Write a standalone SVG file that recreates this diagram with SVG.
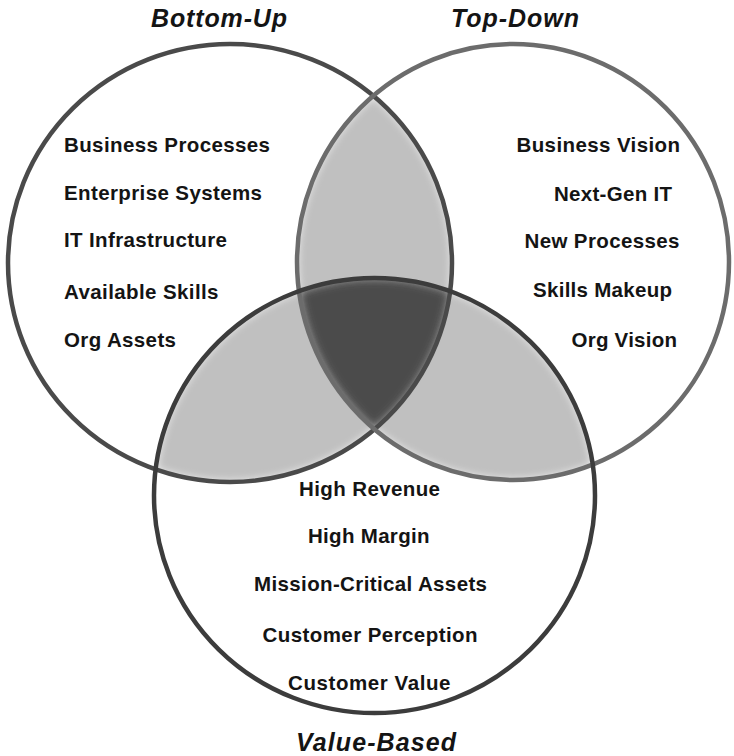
<svg xmlns="http://www.w3.org/2000/svg" width="734" height="756" viewBox="0 0 734 756">
<style>
.t{font-family:"Liberation Sans",Arial,sans-serif;font-weight:bold;font-size:20.5px;fill:#141414}
.h{font-family:"Liberation Sans",Arial,sans-serif;font-weight:bold;font-style:italic;font-size:25px;fill:#141414}
.ring{fill:none;stroke-width:4.5}
.lite{fill:#c0c0c0}
.dark{fill:#4c4c4c}
</style>
<defs>
<clipPath id="cA"><ellipse cx="230" cy="263" rx="222" ry="219"/></clipPath>
<clipPath id="cB"><ellipse cx="513" cy="262" rx="216" ry="218"/></clipPath>
<clipPath id="cC"><ellipse cx="374.5" cy="495.5" rx="220.5" ry="217.5"/></clipPath>
<filter id="soft" x="-10%" y="-10%" width="120%" height="120%"><feGaussianBlur stdDeviation="5"/></filter>
</defs>
<rect width="734" height="756" fill="#ffffff"/>
<g id="overlaps">
<g clip-path="url(#cA)"><g clip-path="url(#cB)"><g filter="url(#soft)"><g clip-path="url(#cA)"><ellipse class="lite" cx="513" cy="262" rx="216" ry="218"/></g></g></g></g>
<g clip-path="url(#cA)"><g clip-path="url(#cC)"><g filter="url(#soft)"><g clip-path="url(#cA)"><ellipse class="lite" cx="374.5" cy="495.5" rx="220.5" ry="217.5"/></g></g></g></g>
<g clip-path="url(#cB)"><g clip-path="url(#cC)"><g filter="url(#soft)"><g clip-path="url(#cB)"><ellipse class="lite" cx="374.5" cy="495.5" rx="220.5" ry="217.5"/></g></g></g></g>
<g clip-path="url(#cA)"><g clip-path="url(#cB)"><g clip-path="url(#cC)"><g filter="url(#soft)"><g clip-path="url(#cA)"><g clip-path="url(#cB)"><ellipse class="dark" cx="374.5" cy="495.5" rx="220.5" ry="217.5"/></g></g></g></g></g></g>
</g>
<g id="bottom-up">
<ellipse class="ring" cx="230" cy="263" rx="222" ry="219" stroke="#4a4a4a"/>
<text class="h" x="151" y="27" textLength="136" lengthAdjust="spacing">Bottom-Up</text>
<text class="t" x="64" y="151.5" textLength="206" lengthAdjust="spacing">Business Processes</text>
<text class="t" x="64" y="199.5" textLength="198" lengthAdjust="spacing">Enterprise Systems</text>
<text class="t" x="64" y="247" textLength="163" lengthAdjust="spacing">IT Infrastructure</text>
<text class="t" x="64" y="299" textLength="154.5" lengthAdjust="spacing">Available Skills</text>
<text class="t" x="64" y="346.5" textLength="112" lengthAdjust="spacing">Org Assets</text>
</g>
<g id="top-down">
<ellipse class="ring" cx="513" cy="262" rx="216" ry="218" stroke="#6c6c6c"/>
<text class="h" x="451" y="27" textLength="128" lengthAdjust="spacing">Top-Down</text>
<text class="t" x="516.5" y="151.5" textLength="163.5" lengthAdjust="spacing">Business Vision</text>
<text class="t" x="554" y="200.5" textLength="118" lengthAdjust="spacing">Next-Gen IT</text>
<text class="t" x="524.5" y="248" textLength="155" lengthAdjust="spacing">New Processes</text>
<text class="t" x="533" y="297" textLength="139" lengthAdjust="spacing">Skills Makeup</text>
<text class="t" x="571.5" y="346.5" textLength="105.5" lengthAdjust="spacing">Org Vision</text>
</g>
<g id="value-based">
<ellipse class="ring" cx="374.5" cy="495.5" rx="220.5" ry="217.5" stroke="#3c3c3c"/>
<text class="h" x="296" y="751" textLength="160" lengthAdjust="spacing">Value-Based</text>
<text class="t" x="299" y="495.5" textLength="141" lengthAdjust="spacing">High Revenue</text>
<text class="t" x="308" y="542.5" textLength="121.5" lengthAdjust="spacing">High Margin</text>
<text class="t" x="254" y="590.5" textLength="233" lengthAdjust="spacing">Mission-Critical Assets</text>
<text class="t" x="262.5" y="642" textLength="215" lengthAdjust="spacing">Customer Perception</text>
<text class="t" x="288" y="689.5" textLength="162.5" lengthAdjust="spacing">Customer Value</text>
</g>
</svg>
